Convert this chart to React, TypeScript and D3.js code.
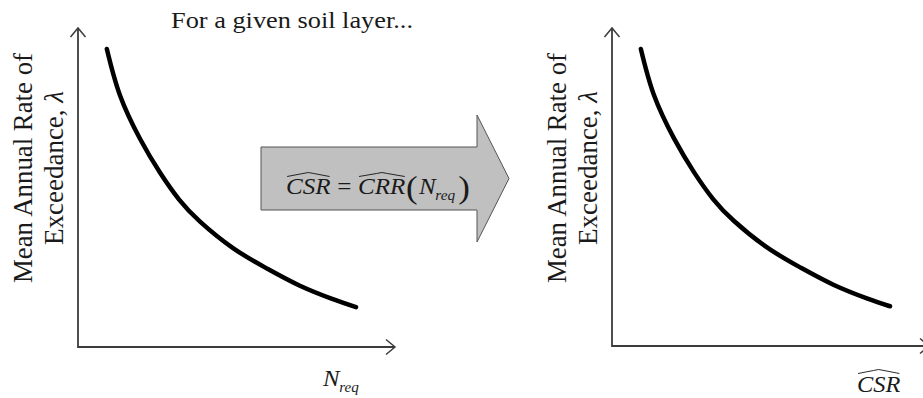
import React from "react";
import * as d3 from "d3";

// Schematic hazard curve (arbitrary units)
const curveX = [0.91, 1.32, 1.96, 2.59, 3.19, 3.85, 4.89, 5.96, 7.0, 8.04, 8.77];
const curveLambda = [9.34, 7.9, 6.52, 5.46, 4.62, 3.93, 3.1, 2.46, 1.92, 1.5, 1.25];
const axisDomain = [0, 10];

const yLabelLines = ["Mean Annual Rate of", "Exceedance, "];
const titleText = "For a given soil layer...";

const W = 923;
const H = 398;
const FONT = "'Liberation Serif', 'Times New Roman', serif";
const AXIS_COLOR = "#3c3c3c";
const TEXT_COLOR = "#1a1a1a";

type Panel = { x0: number; x1: number; y0: number; y1: number };
const panels: Panel[] = [
  { x0: 78, x1: 395, y0: 347, y1: 28 },
  { x0: 612, x1: 929, y0: 346, y1: 28 },
];

function Hat({ x0, x1, y }: { x0: number; x1: number; y: number }) {
  const m = (x0 + x1) / 2;
  const d = `M${x0},${y + 2.5} L${m - 5},${y - 0.5} Q${m},${y - 2.5} ${m + 5},${y - 0.5} L${x1},${y + 2.5}`;
  return <path d={d} fill="none" stroke={TEXT_COLOR} strokeWidth={0.9} />;
}

function Chart({ p, xLabel }: { p: Panel; xLabel: React.ReactNode }) {
  const x = d3.scaleLinear().domain(axisDomain).range([p.x0, p.x1]);
  const y = d3.scaleLinear().domain(axisDomain).range([p.y0, p.y1]);
  const pts = curveX.map((v, i) => [v, curveLambda[i]] as [number, number]);
  const line = d3
    .line<[number, number]>()
    .x((d) => x(d[0]))
    .y((d) => y(d[1]))
    .curve(d3.curveNatural);
  const ox = x(0);
  const oy = y(0);
  const xt = x(10);
  const yt = y(10);
  const ah = 9;
  const aw = 7.5;
  return (
    <g>
      {/* axes */}
      <path d={`M${ox},${yt} L${ox},${oy} L${xt},${oy}`} fill="none" stroke={AXIS_COLOR} strokeWidth={1.8} />
      <path d={`M${ox - aw},${yt + ah} L${ox},${yt} L${ox + aw},${yt + ah}`} fill="none" stroke={AXIS_COLOR} strokeWidth={1.5} />
      <path d={`M${xt - ah},${oy - aw} L${xt},${oy} L${xt - ah},${oy + aw}`} fill="none" stroke={AXIS_COLOR} strokeWidth={1.5} />
      {/* curve */}
      <path d={line(pts) || ""} fill="none" stroke="#000" strokeWidth={4.5} strokeLinecap="round" />
      {/* y label */}
      <g fontFamily={FONT} fontSize={27} fill={TEXT_COLOR} textAnchor="middle">
        <text transform={`translate(${ox - 46},168) rotate(-90)`} textLength={230} lengthAdjust="spacingAndGlyphs">
          {yLabelLines[0]}
        </text>
        <text transform={`translate(${ox - 15},168) rotate(-90)`}>
          {yLabelLines[1]}
          <tspan fontStyle="italic">λ</tspan>
        </text>
      </g>
      {xLabel}
    </g>
  );
}

export default function App() {
  // Transformation arrow
  const rx0 = 261, rx1 = 477, ry0 = 147, ry1 = 210, hy0 = 115, hy1 = 242, tipX = 509;
  const cy = (ry0 + ry1) / 2;
  const arrowPts = [
    [rx0, ry0], [rx1, ry0], [rx1, hy0], [tipX, cy], [rx1, hy1], [rx1, ry1], [rx0, ry1],
  ].map((d) => d.join(",")).join(" ");

  const leftXLabel = (
    <g transform="translate(323,386) scale(1.08,1)" fontFamily={FONT} fill={TEXT_COLOR} fontStyle="italic">
      <text fontSize={23} x={0} y={0}>N</text>
      <text fontSize={14} x={15} y={6}>req</text>
    </g>
  );
  const rightXLabel = (
    <g transform="translate(857,392) scale(1.06,1)" fontFamily={FONT} fill={TEXT_COLOR}>
      <text fontSize={23} fontStyle="italic" x={0} y={0}>CSR</text>
      <Hat x0={1} x1={40} y={-21} />
    </g>
  );

  return (
    <svg width={W} height={H} style={{ position: "absolute", left: 0, top: 0, background: "#fff" }}>
      <rect x={0} y={0} width={W} height={H} fill="#fff" />
      <text x={171} y={28} fontFamily={FONT} fontSize={24} fill={TEXT_COLOR} textLength={242} lengthAdjust="spacingAndGlyphs">
        {titleText}
      </text>
      <Chart p={panels[0]} xLabel={leftXLabel} />
      <Chart p={panels[1]} xLabel={rightXLabel} />
      {/* arrow */}
      <polygon points={arrowPts} fill="#c0c0c0" stroke="#555" strokeWidth={1} />
      <g transform="translate(286,194) scale(1.09,1)" fontFamily={FONT} fill={TEXT_COLOR}>
        <text fontSize={23} fontStyle="italic" x={0} y={0}>CSR</text>
        <Hat x0={1} x1={40} y={-20} />
        <text fontSize={23} x={47} y={0}>=</text>
        <text fontSize={23} fontStyle="italic" x={66} y={0}>CRR</text>
        <Hat x0={67} x1={109} y={-20} />
        <text fontSize={32} x={110} y={4}>(</text>
        <text fontSize={23} fontStyle="italic" x={122} y={0}>N</text>
        <text fontSize={14} fontStyle="italic" x={137} y={6}>req</text>
        <text fontSize={32} x={158} y={4}>)</text>
      </g>
    </svg>
  );
}
